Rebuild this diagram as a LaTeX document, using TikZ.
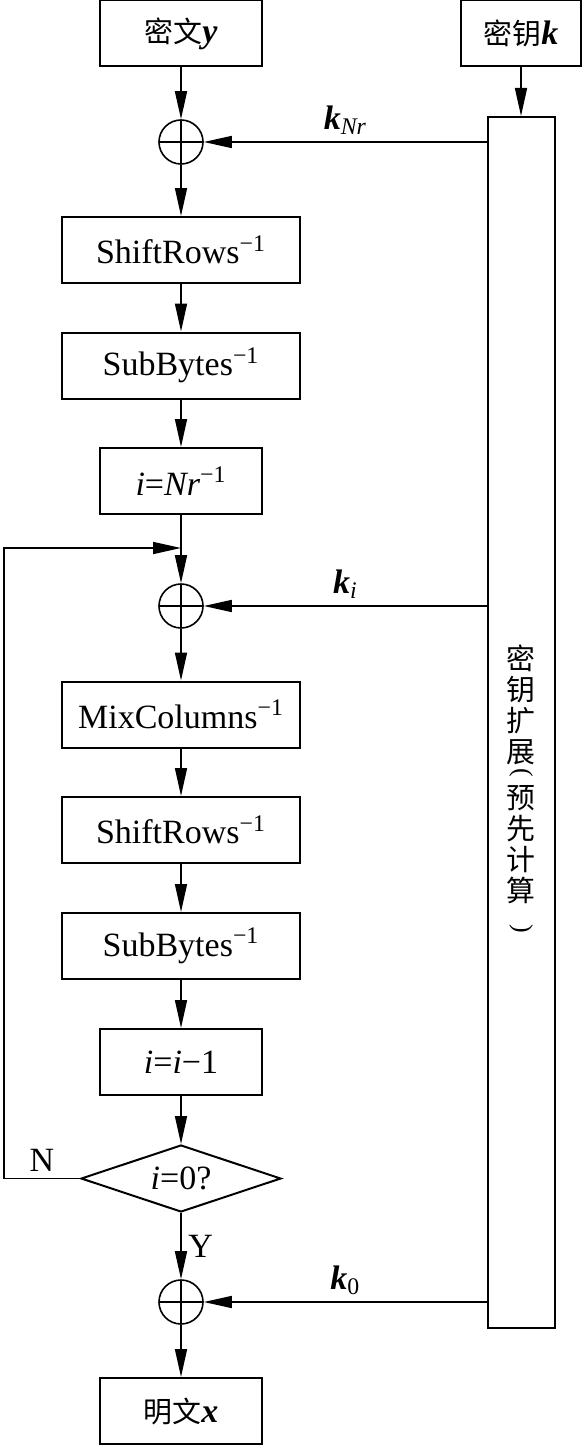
\documentclass[tikz,border=0pt]{standalone}
\usepackage{fontspec}
\setmainfont{Liberation Serif}
\newfontfamily\cjk{Noto Sans CJK SC}[Scale=0.85]
\usetikzlibrary{arrows.meta}
\usetikzlibrary{shapes.geometric}

\begin{document}
\begin{tikzpicture}[x=0.5pt,y=-0.5pt,line width=0.8pt,
    font=\fontsize{17}{20}\selectfont,
    box/.style={draw,line width=1pt,minimum width=119pt,minimum height=33pt,inner sep=0pt},
    sbox/.style={box,minimum width=81pt},
    xorsym/.style={circle,draw,minimum size=22pt,inner sep=0pt,
      path picture={\draw (path picture bounding box.north) -- (path picture bounding box.south)
        (path picture bounding box.west) -- (path picture bounding box.east);}},
    vtext/.style={align=center,inner sep=0pt,font=\cjk\fontsize{17}{15.5}\selectfont},
    vparen/.style={rotate=-90,inner sep=0pt,font=\fontsize{13}{13}\selectfont},
    arr/.style={-{Triangle[length=14pt,width=6pt]}}]

    \useasboundingbox (0,0) rectangle (582,1445);

    % input and key
    \node[sbox] (ct) at (181,33.5) {{\cjk 密文}\textbf{\textit{y}}};
    \node[box,minimum width=60pt] (key) at (521,33.5) {{\cjk 密钥}\textbf{\textit{k}}};

    % key expansion
    \node[draw,line width=1pt,minimum width=33.5pt,minimum height=605.5pt,inner sep=0pt] (kexp) at (521.5,722.5) {};
    \node[vtext] (kx1) at (521,705) {密\\钥\\扩\\展};
    \node[vparen] (kxp1) at (521,773) {(};
    \node[vtext] (kx2) at (521,845) {预\\先\\计\\算};
    \node[vparen] (kxp2) at (521,929) {)};

    % main column
    \node[xorsym] (x1) at (181,142) {};
    \node[box] (sr1) at (181,250) {ShiftRows\textsuperscript{−1}};
    \node[box] (sb1) at (181,365.5) {SubBytes\textsuperscript{−1}};
    \node[sbox] (init) at (181,481) {\textit{i}=\textit{Nr}\textsuperscript{−1}};
    \coordinate (join) at (181,548);
    \node[xorsym] (x2) at (181,606) {};
    \node[box] (mc) at (181,714.5) {MixColumns\textsuperscript{−1}};
    \node[box] (sr2) at (181,830) {ShiftRows\textsuperscript{−1}};
    \node[box] (sb2) at (181,946) {SubBytes\textsuperscript{−1}};
    \node[sbox] (dec) at (181,1062) {\textit{i}=\textit{i}−1};
    \node[diamond,draw,line width=1pt,aspect=3,minimum width=100pt,minimum height=33.5pt,inner sep=0pt] (test) at (181,1178.5) {\textit{i}=0?};
    \node[xorsym] (x3) at (181,1302) {};
    \node[sbox] (pt) at (181,1411) {{\cjk 明文}\textbf{\textit{x}}};

    % draw arrows
    \draw[arr] (ct) -- (x1);
    \foreach \a/\b in {x1/sr1,sr1/sb1,sb1/init,init/x2,x2/mc,mc/sr2,sr2/sb2,sb2/dec,dec/test,x3/pt}
      \draw[arr] (\a) -- (\b);
    \draw[arr] (test) -- node[right] {Y} (x3);
    \draw[arr] (key) -- (key |- kexp.north);

    % round keys
    \draw[arr] (kexp.west |- x1) -- node[above] {\textbf{\textit{k}}\textsubscript{\textit{Nr}}} (x1);
    \draw[arr] (kexp.west |- x2) -- node[above] {\textbf{\textit{k}}\textsubscript{\textit{i}}} (x2);
    \draw[arr] (kexp.west |- x3) -- node[above] {\textbf{\textit{k}}\textsubscript{0}} (x3);

    % loop back
    \coordinate (loopcorner) at (4,1178.5);
    \draw[arr] (test.west) -- node[above] {N} (loopcorner) |- (join);

\end{tikzpicture}
\end{document}
